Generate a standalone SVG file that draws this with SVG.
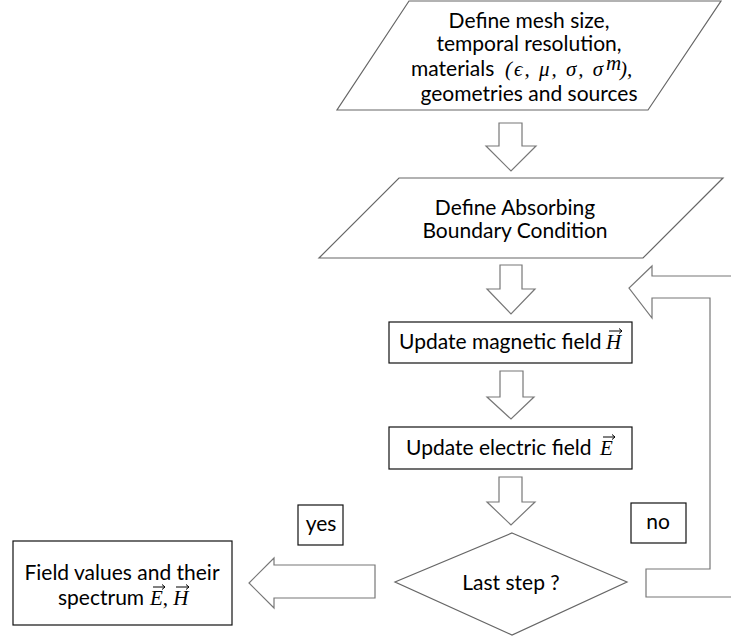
<svg xmlns="http://www.w3.org/2000/svg" width="731" height="638" viewBox="0 0 731 638">
<style>
.t{font-family:"Lato","Liberation Sans",sans-serif;font-size:21px;fill:#000;text-anchor:middle}
.s{text-anchor:start}
.m{font-family:"Liberation Serif","DejaVu Serif",serif;font-style:italic;font-size:21px}
.box{fill:#fff;stroke:#111;stroke-width:1.2}
.para{fill:#fff;stroke:#666;stroke-width:1.2}
.blk{fill:#fff;stroke:#777;stroke-width:1.2;stroke-linejoin:miter}
.vec{fill:none;stroke:#000;stroke-width:1}
</style>
<rect width="731" height="638" fill="#fff"/>
<g id="connectors">
<path class="blk" d="M499,123 H522 V146 H536 L511,171 L486,146 H499 Z"/>
<path class="blk" d="M500,265 H522 V289 H535 L511,314 L487,289 H500 Z"/>
<path class="blk" d="M500,371 H523 V397 H534 L511,419 L487,397 H500 Z"/>
<path class="blk" d="M499,477 H522 V502 H535 L511,525 L487,502 H499 Z"/>
<path class="blk" d="M646,597 H745 V276 H652 V266 L629,288 L652,318 V298 H710 V569 H646 Z"/>
<path class="blk" d="M375,565 V598 H274 V608 L249,583 L274,558 V565 Z"/>
</g>
<g id="n1">
<path class="para" d="M409,1 H721 L648,110 H337 Z"/>
<text class="t" x="529" y="28">Define mesh size,</text>
<text class="t" x="529" y="51">temporal resolution,</text>
<text class="t s" x="411" y="76">materials</text>
<text class="m" x="505" y="76" font-size="19" letter-spacing="2">(ϵ, μ, σ, σ</text>
<text class="m" x="606" y="70" font-size="12">m</text>
<text class="m" x="620" y="76" font-size="19" font-style="normal">),</text>
<text class="t" x="529" y="101">geometries and sources</text>
</g>
<g id="n2">
<path class="para" d="M399,178 H723 L643,258 H319 Z"/>
<text class="t" x="515" y="215">Define Absorbing</text>
<text class="t" x="515" y="238">Boundary Condition</text>
</g>
<g id="n3">
<rect class="box" x="389" y="322" width="243" height="41"/>
<text class="t s" x="399" y="349">Update magnetic field</text>
<text class="m" x="606" y="349">H</text>
<path class="vec" d="M609,331 H622 M619,328.5 L622,331 L619,333.5"/>
</g>
<g id="n4">
<rect class="box" x="389" y="427" width="243" height="42"/>
<text class="t s" x="406" y="455">Update electric field</text>
<text class="m" x="600" y="455">E</text>
<path class="vec" d="M603,437 H615 M612,434.5 L615,437 L612,439.5"/>
</g>
<g id="n5">
<path class="para" d="M512,533 L627,582 L512,635 L395,582 Z"/>
<text class="t" x="511" y="590">Last step ?</text>
</g>
<g id="n6">
<rect class="box" x="13" y="541" width="219" height="84"/>
<text class="t" x="122" y="580">Field values and their</text>
<text class="t s" x="58" y="605">spectrum</text>
<text class="m" x="150" y="605">E<tspan font-style="normal">,</tspan> H</text>
<path class="vec" d="M153,587 H165 M162,584.5 L165,587 L162,589.5"/>
<path class="vec" d="M176,587 H189 M186,584.5 L189,587 L186,589.5"/>
</g>
<g id="yes">
<rect class="box" x="298" y="505" width="45" height="40"/>
<text class="t" x="321" y="531">yes</text>
</g>
<g id="no">
<rect class="box" x="631" y="503" width="55" height="40"/>
<text class="t" x="658" y="529">no</text>
</g>
</svg>
